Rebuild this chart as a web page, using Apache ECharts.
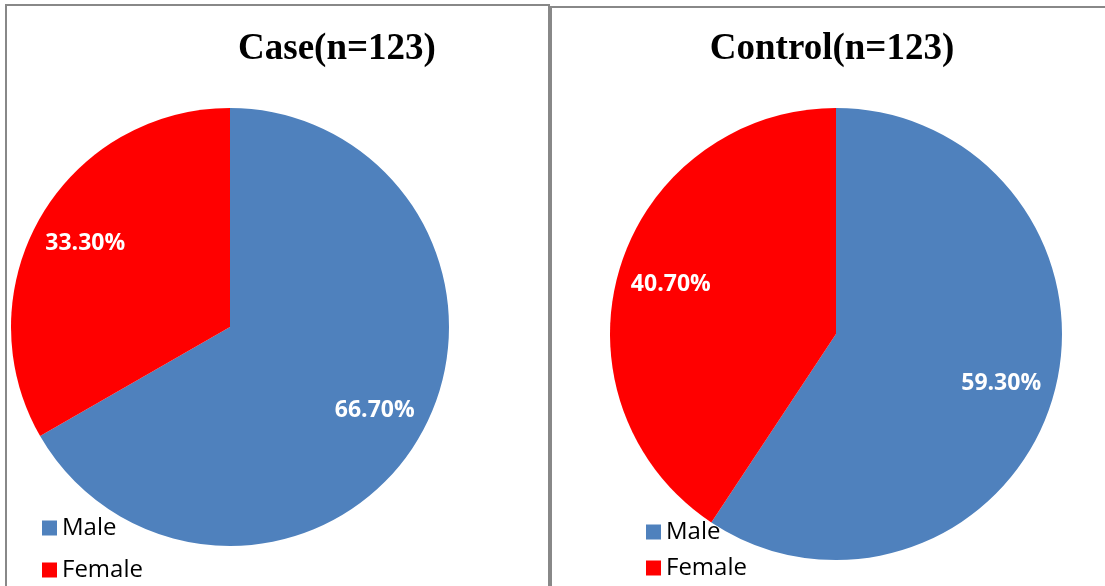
<!DOCTYPE html>
<html>
<head>
<meta charset="utf-8">
<script src="https://cdn.jsdelivr.net/npm/echarts@6/dist/echarts.min.js"></script>
<style>
html,body{margin:0;padding:0;background:#fff;}
#c{width:1105px;height:586px;}
</style>
</head>
<body>
<div id="c"></div>
<script>
const categories = ['Male', 'Female'];
const caseValues = [66.7, 33.3];
const controlValues = [59.3, 40.7];
const titles = ['Case(n=123)', 'Control(n=123)'];
const colors = ['#4F81BD', '#FF0000'];

function toData(vals) {
  return categories.map((n, i) => ({ name: n, value: vals[i], itemStyle: { color: colors[i] } }));
}
const labelFmt = p => p.value.toFixed(2) + '%';
const labelStyle = { show: true, position: 'inside', color: '#fff', fontFamily: 'Open Sans', fontWeight: 'bold', fontSize: 23, formatter: labelFmt };

function pies(vals, center, r) {
  return [
    { type: 'pie', center: center, radius: [0, r], startAngle: 90, clockwise: true,
      label: { show: false }, labelLine: { show: false }, silent: true,
      data: toData(vals) },
    { type: 'pie', center: center, radius: [r / 2, r], startAngle: 90, clockwise: true,
      itemStyle: { color: 'rgba(0,0,0,0)' }, silent: true, legendHoverLink: false,
      label: labelStyle, labelLine: { show: false },
      data: categories.map((n, i) => ({ name: n + ' ', value: vals[i], itemStyle: { color: 'rgba(0,0,0,0)' } })) }
  ];
}

const chart = echarts.init(document.getElementById('c'), null, { renderer: 'canvas' });
const titleStyle = { fontFamily: 'Liberation Serif', fontWeight: 'bold', fontSize: 37, color: '#000' };
const legendBase = { orient: 'vertical', icon: 'rect', itemWidth: 15, itemHeight: 15, selectedMode: false,
  padding: 0, height: 120, width: 200,
  textStyle: { fontFamily: 'Open Sans', fontSize: 24, lineHeight: 24, color: '#000' }, data: categories };
chart.setOption({
  animation: false,
  title: [
    { text: titles[0], left: 332, top: 26, textAlign: 'center', textStyle: titleStyle },
    { text: titles[1], left: 827, top: 26, textAlign: 'center', textStyle: titleStyle }
  ],
  legend: [
    Object.assign({}, legendBase, { left: 42, top: 516, itemGap: 18 }),
    Object.assign({}, legendBase, { left: 646, top: 520, itemGap: 12 })
  ],
  graphic: [
    { type: 'rect', shape: { x: 6, y: 5, width: 543, height: 620 }, style: { fill: 'none', stroke: '#888', lineWidth: 2 }, z: 100 },
    { type: 'rect', shape: { x: 551, y: 7, width: 620, height: 620 }, style: { fill: 'none', stroke: '#888', lineWidth: 2 }, z: 100 }
  ],
  series: [].concat(pies(caseValues, [230, 327], 219), pies(controlValues, [836, 334], 226))
});
</script>
</body>
</html>
